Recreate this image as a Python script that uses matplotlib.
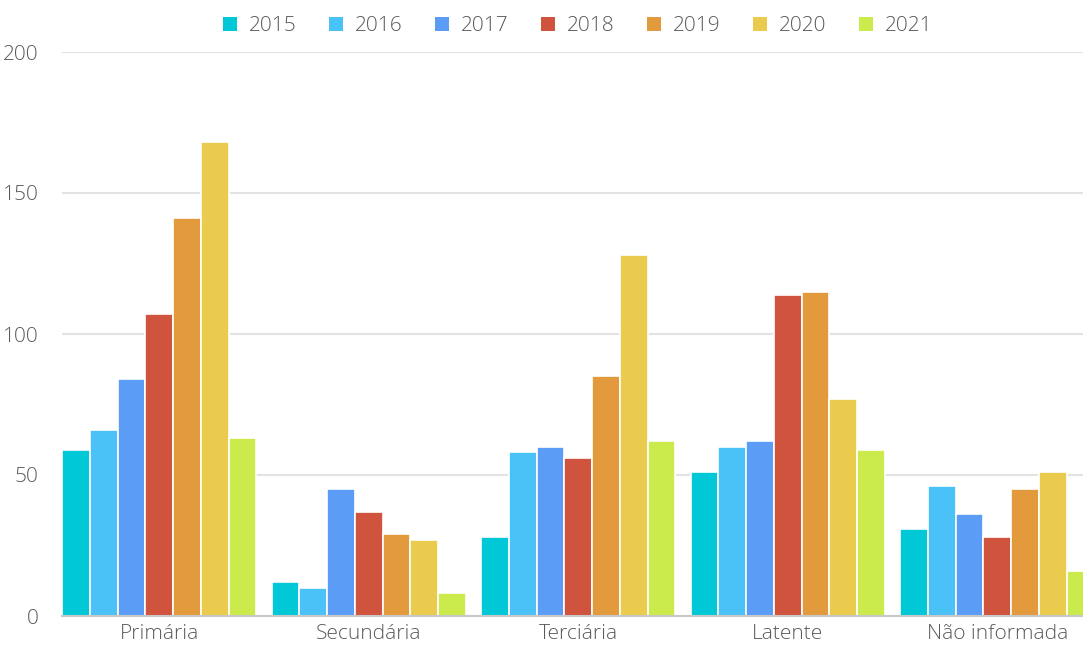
import numpy as np
import matplotlib.pyplot as plt
from matplotlib.patches import Patch

categories = ['Primária', 'Secundária', 'Terciária', 'Latente', 'Não informada']
years = ['2015', '2016', '2017', '2018', '2019', '2020', '2021']
v2015 = [59, 12, 28, 51, 31]
v2016 = [66, 10, 58, 60, 46]
v2017 = [84, 45, 60, 62, 36]
v2018 = [107, 37, 56, 114, 28]
v2019 = [141, 29, 85, 115, 45]
v2020 = [168, 27, 128, 77, 51]
v2021 = [63, 8, 62, 59, 16]
series = [v2015, v2016, v2017, v2018, v2019, v2020, v2021]
colors = ['#00C8D7', '#4AC1F7', '#5B9DF6', '#D0533D', '#E39A3C', '#EBCB4E', '#CBEA4C']

plt.rcParams['font.family'] = ['Open Sans', 'DejaVu Sans']
plt.rcParams['font.weight'] = 'light'

W, H = 1083, 646
fig = plt.figure(figsize=(W / 100, H / 100), dpi=100)
ax = fig.add_axes([62 / W, 30 / H, (W - 62) / W, 564 / H])

x = np.arange(len(categories))
bw = 0.1325
for i, (vals, c) in enumerate(zip(series, colors)):
    ax.bar(x - 3 * bw + i * bw, vals, width=bw, color=c,
           edgecolor='white', linewidth=1.2, zorder=3)

ax.set_ylim(0, 200)
ax.set_xlim(-3.5 * bw, -3.5 * bw + (W - 62) / 209.5)
ax.set_yticks([0, 50, 100, 150, 200])
ax.yaxis.grid(True, color='#e3e3e3', linewidth=1.5, zorder=0)
ax.set_axisbelow(True)
for s in ['top', 'right', 'left']:
    ax.spines[s].set_visible(False)
ax.spines['bottom'].set_color('#c8c8c8')
ax.spines['bottom'].set_linewidth(1.5)
ax.spines['bottom'].set_zorder(4)
ax.set_xticks(x)
ax.set_xticklabels(categories)
ax.tick_params(axis='x', length=0, pad=6, labelsize=15, labelcolor='#5a5a5a')
ax.tick_params(axis='y', length=0, pad=17, labelsize=15, labelcolor='#5a5a5a')

handles = [Patch(facecolor=c, label=y) for y, c in zip(years, colors)]
fig.legend(handles=handles, loc='center', bbox_to_anchor=(578 / W, 1 - 26 / H),
           ncol=7, frameon=False, fontsize=15, handlelength=0.65, handleheight=0.65,
           handletextpad=0.6, columnspacing=1.55, labelcolor='#5a5a5a')

plt.savefig('out.png', dpi=100)
